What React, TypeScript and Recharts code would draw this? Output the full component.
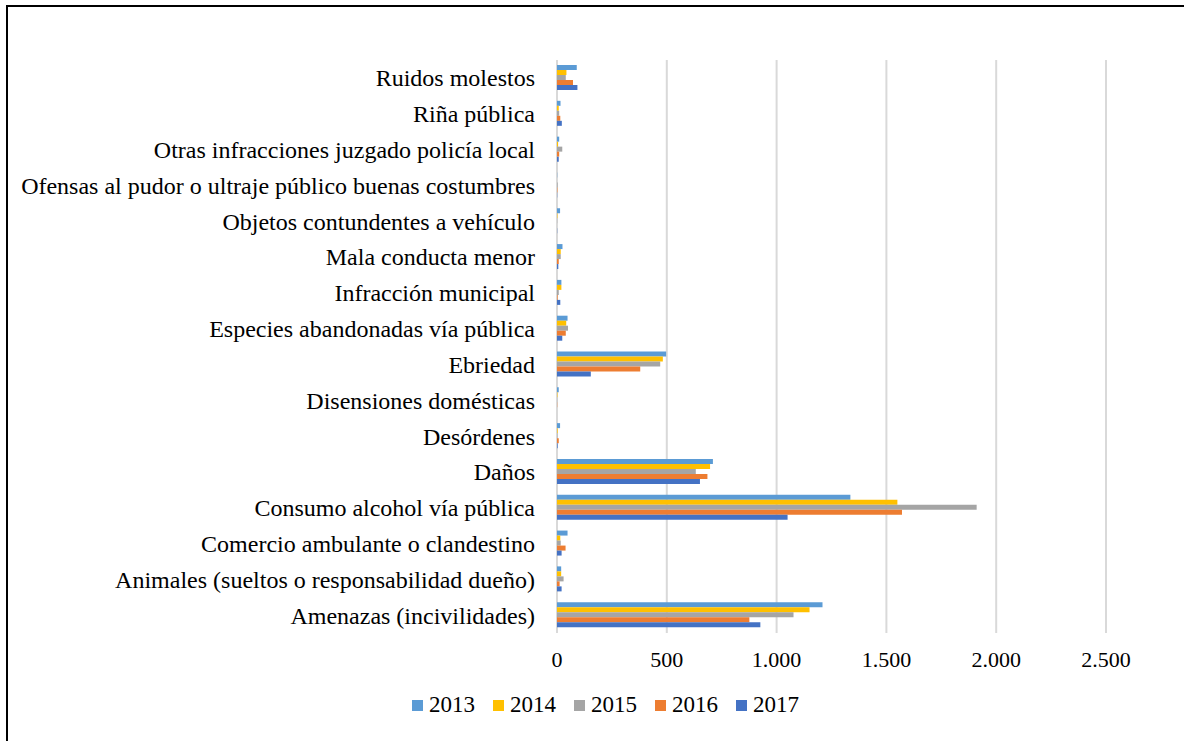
import { BarChart, Bar, XAxis, YAxis, CartesianGrid, Legend } from "recharts"

// categories listed top to bottom as they appear in the chart
const categories = [
    "Ruidos molestos",
    "Riña pública",
    "Otras infracciones juzgado policía local",
    "Ofensas al pudor o ultraje público buenas costumbres",
    "Objetos contundentes a vehículo",
    "Mala conducta menor",
    "Infracción municipal",
    "Especies abandonadas vía pública",
    "Ebriedad",
    "Disensiones domésticas",
    "Desórdenes",
    "Daños",
    "Consumo alcohol vía pública",
    "Comercio ambulante o clandestino",
    "Animales (sueltos o responsabilidad dueño)",
    "Amenazas (incivilidades)",
]

const v2013 = [90, 16, 10, 1, 14, 25, 20, 48, 497, 8, 14, 710, 1336, 48, 19, 1209]
const v2014 = [43, 8, 5, 0, 2, 17, 20, 42, 482, 2, 3, 697, 1550, 15, 19, 1150]
const v2015 = [40, 10, 24, 3, 1, 17, 8, 50, 470, 1, 2, 632, 1911, 17, 30, 1077]
const v2016 = [73, 15, 10, 2, 0, 8, 3, 40, 379, 1, 8, 685, 1571, 39, 12, 876]
const v2017 = [93, 22, 8, 1, 1, 6, 15, 24, 154, 0, 3, 651, 1050, 21, 21, 926]

const xTicks = [0, 500, 1000, 1500, 2000, 2500]

const series = [
    { key: "2013", color: "#5B9BD5" },
    { key: "2014", color: "#FFC000" },
    { key: "2015", color: "#A5A5A5" },
    { key: "2016", color: "#ED7D31" },
    { key: "2017", color: "#4472C4" },
]

const data = categories.map((name, i) => ({
    name,
    "2013": v2013[i],
    "2014": v2014[i],
    "2015": v2015[i],
    "2016": v2016[i],
    "2017": v2017[i],
}))

const font = "'Liberation Serif', 'Times New Roman', serif"

const fmt = (v: number) => String(v).replace(/\B(?=(\d{3})+(?!\d))/g, ".")

function LegendBox() {
    return (
        <div
            style={{
                height: 24,
                display: "flex",
                justifyContent: "center",
                alignItems: "center",
                fontFamily: font,
                fontSize: 23,
                color: "#000",
                paddingLeft: 106,
            }}
        >
            {series.map((s) => (
                <div key={s.key} style={{ display: "flex", alignItems: "center", marginRight: 18 }}>
                    <span style={{ width: 11, height: 11, background: s.color, marginRight: 6 }} />
                    <span>{s.key}</span>
                </div>
            ))}
        </div>
    )
}

export default function App() {
    return (
        <div
            style={{
                position: "absolute",
                left: 0,
                top: 0,
                width: 1184,
                height: 741,
                overflow: "hidden",
                background: "#fff",
            }}
        >
            <div
                style={{
                    position: "absolute",
                    left: 6,
                    top: 5,
                    width: 1200,
                    height: 760,
                    border: "2px solid #000",
                }}
            />
            <div style={{ position: "absolute", left: 0, top: 0 }}>
                <BarChart
                    width={1184}
                    height={741}
                    data={data}
                    layout="vertical"
                    margin={{ top: 60, right: 78, bottom: 24, left: 17 }}
                    barCategoryGap="14%"
                    barGap={0}
                >
                    <CartesianGrid horizontal={false} stroke="#D9D9D9" strokeWidth={2} />
                    <XAxis
                        type="number"
                        domain={[0, 2500]}
                        ticks={xTicks}
                        tickFormatter={fmt}
                        axisLine={false}
                        tickLine={false}
                        tickSize={0}
                        tickMargin={18}
                        height={60}
                        tick={{ fill: "#000", fontSize: 22, fontFamily: font }}
                    />
                    <YAxis
                        type="category"
                        dataKey="name"
                        width={540}
                        axisLine={false}
                        tickLine={false}
                        tickSize={0}
                        tickMargin={22}
                        interval={0}
                        tick={{ fill: "#000", fontSize: 24, fontFamily: font }}
                    />
                    <Legend verticalAlign="bottom" content={() => <LegendBox />} />
                    {series.map((s) => (
                        <Bar key={s.key} dataKey={s.key} fill={s.color} isAnimationActive={false} />
                    ))}
                </BarChart>
            </div>
        </div>
    )
}
